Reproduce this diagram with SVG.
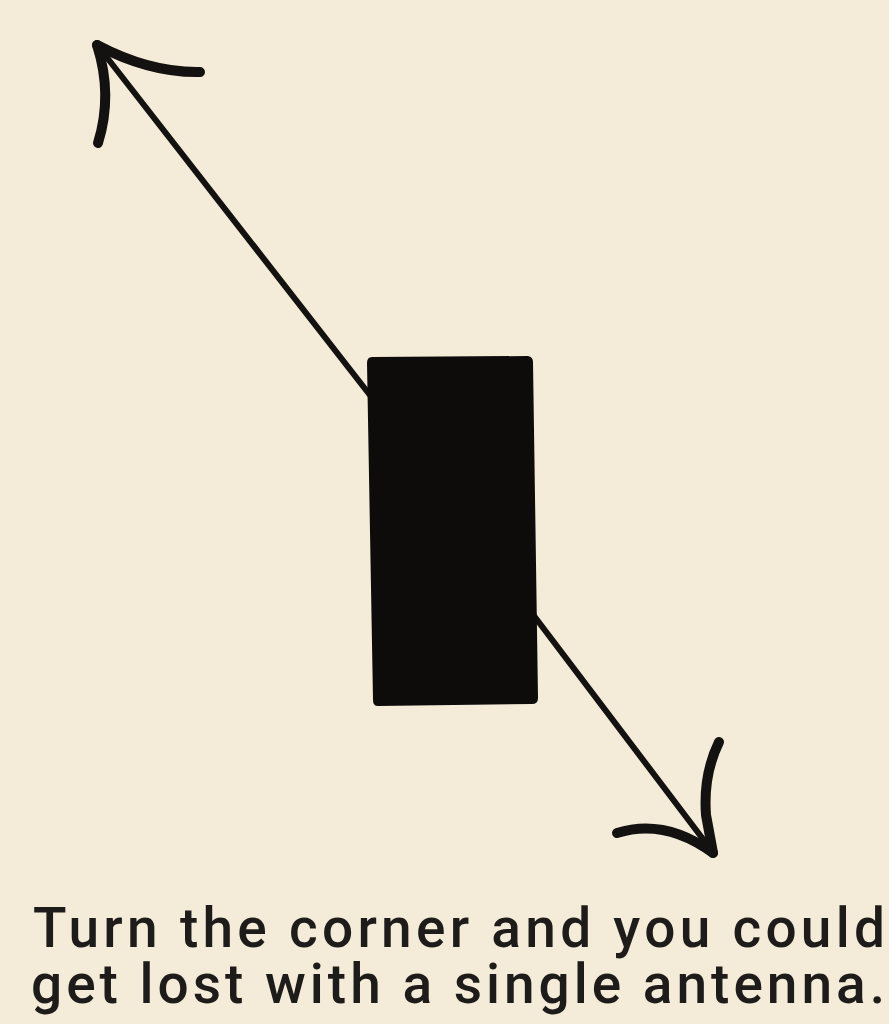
<svg xmlns="http://www.w3.org/2000/svg" width="889" height="1024" viewBox="0 0 889 1024">
<style>
.ln{fill:none;stroke:#141210;stroke-width:6;stroke-linecap:round;}
.barb{fill:none;stroke:#141210;stroke-width:10;stroke-linecap:round;stroke-linejoin:round;}
.cap{font-family:Roboto,"Liberation Sans",sans-serif;font-size:55px;font-weight:500;fill:#1e1c1a;}
</style>
<rect x="0" y="0" width="889" height="1024" fill="#f4ecd8"/>
<g id="connectors">
<path class="ln" d="M98,46 L380,408"/>
<path class="ln" d="M522,600 L712,851"/>
<path class="barb" d="M97,45 Q150,73 200,72"/>
<path class="barb" d="M97,45 Q113,95 98,143"/>
<path class="barb" d="M719,742 Q703,775 706,815 L713,853"/>
<path class="barb" d="M617,833 Q665,818 713,853"/>
</g>
<g id="antenna">
<path d="M372,357 L528,356 Q533,357 533,362 L538,698 Q538,704 532,704 L378,706 Q373,706 373,700 L367,363 Q367,357 372,357 Z" fill="#0e0c0b"/>
</g>
<g id="caption">
<text class="cap" x="33" y="947" textLength="852" lengthAdjust="spacing">Turn the corner and you could</text>
<text class="cap" x="31" y="1003" textLength="854" lengthAdjust="spacing">get lost with a single antenna.</text>
</g>
</svg>
